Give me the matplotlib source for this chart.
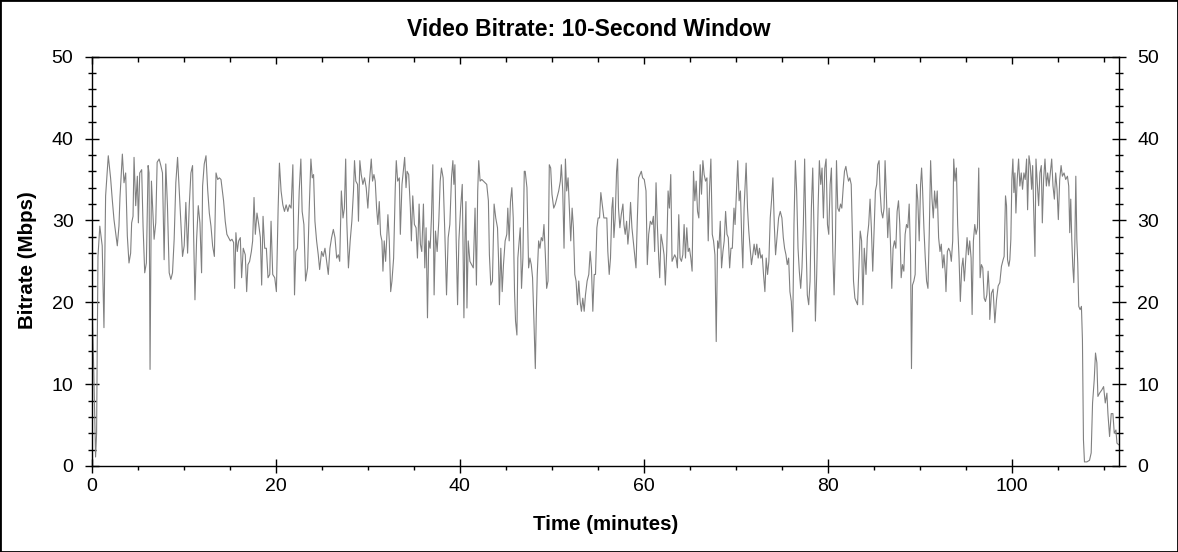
import numpy as np
import matplotlib
matplotlib.use('Agg')
import matplotlib.pyplot as plt
from matplotlib.ticker import MultipleLocator
from matplotlib.patches import Rectangle

plt.rcParams['font.family'] = ['Liberation Sans', 'DejaVu Sans']

# bitrate trace, split into ~14 minute pieces
t_a = [0.0, 0.07, 0.25, 0.44, 0.55, 0.7, 0.9, 1.16, 1.35, 1.53, 1.82, 2.07, 2.25, 2.44, 2.62, 2.8,
       2.98, 3.09, 3.35, 3.53, 3.71, 3.89, 4.07, 4.25, 4.36, 4.51, 4.62, 4.8, 4.98, 5.09, 5.24, 5.45,
       5.6, 5.78, 5.96, 6.15, 6.25, 6.36, 6.51, 6.8, 6.98, 7.13, 7.35, 7.53, 7.71, 7.89, 8.07, 8.25,
       8.44, 8.62, 8.8, 8.98, 9.16, 9.35, 9.53, 9.71, 9.89, 10.07, 10.25, 10.44, 10.62, 10.8, 10.98,
       11.09, 11.24, 11.42, 11.6, 11.78, 11.96, 12.07, 12.25, 12.44, 12.62, 12.8, 12.98, 13.16, 13.35,
       13.53, 13.71, 13.89, 14.07]
v_a = [21.1, 19.5, 11.3, 1.1, 4.0, 25.6, 29.3, 26.9, 16.9, 33.0, 37.9, 35.2, 32.6, 30.1, 28.5, 26.9,
       29.3, 32.8, 38.1, 34.6, 35.8, 28.1, 24.8, 26.0, 29.7, 30.5, 37.7, 31.8, 35.4, 29.7, 35.8, 36.2,
       29.3, 23.6, 24.8, 36.7, 35.8, 11.8, 34.8, 27.7, 29.7, 37.1, 37.5, 36.7, 35.8, 25.2, 36.9, 31.8,
       23.6, 22.8, 23.6, 27.7, 34.6, 37.7, 33.8, 29.7, 25.6, 26.9, 32.2, 26.0, 31.8, 35.8, 36.7,
       28.5, 20.3, 27.7, 31.8, 29.7, 23.6, 34.2, 36.9, 37.9, 33.8, 30.9, 29.3, 26.9, 25.6,
       35.8, 35.0, 35.2, 35.0]

t_b = [14.35, 14.53, 14.71, 14.89, 15.08, 15.26, 15.44, 15.55, 15.69, 15.84, 15.99, 16.17, 16.31,
       16.49, 16.71, 16.86, 17.0, 17.18, 17.37, 17.51, 17.66, 17.8, 17.98, 18.17, 18.35, 18.49, 18.64,
       18.82, 19.0, 19.18, 19.37, 19.51, 19.69, 19.91, 20.09, 20.28, 20.42, 20.6, 20.79, 20.97, 21.15,
       21.33, 21.51, 21.69, 21.88, 22.06, 22.2, 22.38, 22.57, 22.75, 22.89, 23.08, 23.26, 23.48, 23.66,
       23.84, 23.99, 24.13, 24.28, 24.46, 24.64, 24.79, 25.0, 25.18, 25.37, 25.55, 25.73, 25.91, 26.09,
       26.28, 26.46, 26.64, 26.82, 26.97, 27.15, 27.33, 27.48, 27.62]
v_b = [32.4, 29.9, 28.3, 27.9, 27.5, 27.7, 27.3, 21.7, 28.5, 26.2, 27.5, 27.9, 23.0,
       26.6, 25.8, 21.3, 24.6, 25.0, 26.2, 27.5, 32.8, 28.3, 30.9, 29.5, 27.9, 22.1, 30.5,
       26.6, 26.6, 23.0, 23.4, 29.9, 23.4, 23.0, 21.3, 31.5, 37.0, 33.6, 31.9, 31.1, 31.9,
       31.1, 31.9, 31.5, 36.8, 20.9, 26.2, 26.6, 33.6, 37.5, 31.1, 29.5, 22.6, 24.2, 31.5,
       37.5, 35.2, 35.6, 29.9, 27.5, 25.8, 24.0, 26.2, 25.6, 26.6, 25.0, 23.4, 26.6, 27.9,
       28.9, 27.9, 25.4, 25.8, 25.0, 33.6, 30.3, 31.5, 37.5]

t_c = [27.74, 27.92, 28.11, 28.29, 28.47, 28.58, 28.72, 28.91, 29.01, 29.16, 29.31, 29.49, 29.67,
       29.85, 30.03, 30.18, 30.4, 30.54, 30.69, 30.83, 30.98, 31.12, 31.27, 31.41, 31.56, 31.67, 31.81,
       31.96, 32.11, 32.21, 32.36, 32.51, 32.65, 32.83, 33.01, 33.12, 33.27, 33.45, 33.56, 33.74, 33.92,
       34.03, 34.18, 34.29, 34.47, 34.65, 34.76, 34.91, 35.09, 35.27, 35.42, 35.6, 35.74, 35.89, 36.07,
       36.22, 36.36, 36.51, 36.65, 36.8, 36.94, 37.09, 37.23, 37.38, 37.56, 37.74, 37.89, 38.03, 38.21,
       38.4, 38.58, 38.76, 38.94, 39.12, 39.27, 39.38, 39.49, 39.63, 39.78, 39.92, 40.11, 40.29, 40.47,
       40.58, 40.69, 40.8, 40.94, 41.12, 41.31, 41.49]
v_c = [29.9, 24.2, 27.5, 29.9, 33.6, 37.3, 34.8, 34.4, 29.9, 37.3, 35.6, 34.4, 35.2,
       34.0, 31.5, 34.4, 37.5, 34.8, 35.6, 34.8, 31.5, 29.5, 32.3, 28.3, 27.5, 23.8, 27.5,
       25.0, 28.3, 30.7, 27.5, 21.3, 22.6, 25.4, 34.0, 37.3, 34.8, 35.2, 28.3, 34.4, 36.4,
       37.7, 34.0, 36.0, 35.6, 31.5, 27.5, 33.0, 29.5, 29.1, 25.4, 32.0, 27.1, 26.2, 32.0,
       24.2, 29.1, 18.1, 27.5, 26.6, 30.3, 36.8, 20.9, 28.7, 26.2, 29.9, 34.8, 36.4, 35.2,
       28.3, 20.9, 27.9, 29.5, 35.2, 37.3, 34.4, 36.8, 27.5, 19.7, 27.5, 31.5, 34.4, 18.1,
       27.5, 32.3, 19.3, 27.5, 25.0, 24.6, 24.2]

t_d = [41.68, 41.83, 41.97, 42.08, 42.23, 42.41, 42.59, 42.77, 42.95, 43.13, 43.24, 43.39, 43.57,
       43.75, 43.93, 44.12, 44.23, 44.33, 44.48, 44.63, 44.77, 44.95, 45.13, 45.24, 45.39, 45.53, 45.68,
       45.83, 45.97, 46.08, 46.23, 46.33, 46.48, 46.59, 46.73, 46.88, 47.03, 47.13, 47.32, 47.5, 47.64,
       47.79, 47.93, 48.08, 48.23, 48.33, 48.44, 48.59, 48.73, 48.88, 49.03, 49.17, 49.32, 49.46, 49.61,
       49.75, 49.9, 50.04, 50.23, 50.41, 50.59, 50.77, 50.95, 51.06, 51.21, 51.35, 51.5, 51.64, 51.79,
       51.93, 52.08, 52.23, 52.37, 52.52, 52.66, 52.81, 52.95, 53.1, 53.24, 53.39, 53.54, 53.68, 53.86,
       54.04, 54.19, 54.33, 54.48, 54.63, 54.77, 54.92, 55.06, 55.21, 55.35, 55.5, 55.68]
v_d = [31.5, 22.1, 33.6, 37.3, 34.8, 35.0, 34.8, 34.6, 34.4, 32.4, 25.8, 22.1, 22.6,
       32.0, 30.3, 29.1, 25.4, 19.7, 26.6, 21.3, 24.6, 27.5, 28.3, 31.5, 27.5, 32.3, 34.0,
       30.3, 21.3, 17.7, 16.0, 25.4, 27.5, 29.1, 21.7, 25.4, 36.0, 36.0, 34.0, 24.2, 25.4,
       24.6, 23.0, 17.7, 11.9, 18.1, 23.4, 27.5, 26.6, 27.9, 27.5, 29.5, 25.8, 21.7, 22.6,
       36.8, 36.4, 33.2, 31.5, 32.0, 32.8, 33.6, 34.8, 36.8, 33.6, 26.6, 37.5, 33.6, 35.2,
       31.5, 27.5, 31.5, 29.1, 23.4, 22.6, 19.7, 22.6, 20.1, 18.9, 20.5, 18.9, 20.9, 22.6,
       23.4, 26.2, 24.2, 18.9, 23.4, 23.4, 29.1, 30.3, 30.3, 33.4, 32.0, 30.3]

t_e = [56.0, 56.11, 56.26, 56.4, 56.55, 56.66, 56.77, 56.91, 57.06, 57.17, 57.27, 57.42, 57.57,
       57.75, 57.86, 58.0, 58.15, 58.29, 58.44, 58.58, 58.73, 58.87, 59.02, 59.17, 59.31, 59.46, 59.6,
       59.75, 59.89, 60.07, 60.26, 60.4, 60.55, 60.73, 60.91, 61.06, 61.2, 61.35, 61.49, 61.64, 61.75,
       61.89, 62.07, 62.22, 62.36, 62.51, 62.66, 62.8, 62.95, 63.09, 63.24, 63.38, 63.53, 63.67, 63.82,
       63.96, 64.11, 64.26, 64.4, 64.55, 64.69, 64.84, 64.98, 65.13, 65.27, 65.42, 65.57, 65.71, 65.86,
       66.0, 66.15, 66.29, 66.44, 66.58, 66.73, 66.88, 67.02, 67.17, 67.31, 67.46, 67.6, 67.75, 67.89,
       68.04, 68.18, 68.33, 68.47, 68.62, 68.76, 68.91, 69.06, 69.2, 69.35, 69.49, 69.64, 69.82]
v_e = [30.3, 26.2, 23.4, 25.4, 31.5, 32.8, 27.9, 30.3, 36.0, 37.5, 31.5, 29.1, 30.7,
       32.0, 29.5, 28.3, 29.9, 27.1, 29.1, 32.2, 29.1, 27.5, 25.8, 24.2, 29.9, 35.2, 35.6,
       36.0, 35.2, 35.0, 33.6, 24.6, 28.3, 29.9, 29.5, 30.5, 26.2, 34.6, 29.5, 25.4, 23.0,
       28.3, 27.1, 25.8, 22.1, 26.2, 33.6, 31.5, 35.6, 25.0, 25.4, 25.8, 25.4, 24.2, 30.7,
       25.4, 25.0, 25.8, 29.5, 25.4, 29.1, 26.2, 26.6, 25.4, 23.8, 36.0, 32.4, 34.8, 31.1,
       30.3, 36.8, 33.2, 37.3, 35.6, 34.8, 35.2, 27.5, 34.0, 37.5, 28.3, 27.5, 25.8, 15.2,
       27.5, 26.6, 29.9, 24.2, 26.2, 27.5, 31.1, 28.3, 27.9, 24.2, 26.6, 26.6, 31.5]

t_f = [69.94, 70.12, 70.23, 70.38, 70.52, 70.67, 70.78, 70.92, 71.03, 71.14, 71.29, 71.43, 71.58,
       71.72, 71.87, 72.01, 72.16, 72.3, 72.45, 72.59, 72.74, 72.89, 73.03, 73.18, 73.32, 73.47, 73.61,
       73.76, 73.9, 74.05, 74.2, 74.34, 74.49, 74.67, 74.85, 75.03, 75.18, 75.32, 75.47, 75.61, 75.76,
       75.9, 76.05, 76.2, 76.34, 76.49, 76.63, 76.78, 76.92, 77.07, 77.21, 77.36, 77.5, 77.65, 77.79,
       77.94, 78.09, 78.23, 78.38, 78.52, 78.67, 78.81, 78.96, 79.1, 79.25, 79.39, 79.54, 79.69, 79.83,
       79.98, 80.12, 80.27, 80.41, 80.56, 80.7, 80.85, 80.96, 81.1, 81.25, 81.4, 81.54, 81.69, 81.83,
       81.98, 82.12, 82.27, 82.41, 82.56, 82.67, 82.81, 82.96, 83.1, 83.25, 83.39, 83.54, 83.69, 83.83,
       83.98]
v_f = [29.5, 34.4, 37.3, 32.4, 33.6, 27.5, 24.2, 31.5, 34.4, 37.0, 31.5, 28.7, 26.6,
       24.6, 25.8, 27.1, 25.8, 27.1, 25.4, 26.6, 25.4, 25.8, 23.4, 21.3, 25.4, 23.4, 25.0,
       30.3, 32.4, 35.2, 29.5, 25.8, 27.9, 30.3, 31.1, 30.3, 27.9, 26.6, 25.8, 24.6, 25.4,
       21.3, 20.1, 16.4, 29.5, 37.3, 33.6, 26.6, 23.8, 21.7, 24.2, 29.5, 37.5, 27.5, 20.9,
       19.7, 22.6, 31.5, 36.4, 28.7, 17.7, 23.4, 31.5, 37.3, 34.4, 36.4, 30.3, 36.4, 37.5,
       29.5, 28.3, 34.4, 36.4, 26.2, 20.9, 27.5, 37.3, 31.5, 31.1, 32.0, 31.5, 34.0, 36.0,
       36.6, 35.6, 34.8, 35.2, 34.4, 29.1, 22.6, 20.5, 20.1, 19.7, 24.2, 28.7, 27.5, 19.7,
       26.6]

t_g = [84.17, 84.31, 84.46, 84.61, 84.75, 84.9, 85.04, 85.19, 85.33, 85.44, 85.59, 85.7, 85.84,
       85.99, 86.13, 86.24, 86.39, 86.53, 86.68, 86.82, 86.97, 87.11, 87.26, 87.41, 87.55, 87.7, 87.84,
       87.99, 88.13, 88.28, 88.42, 88.57, 88.71, 88.86, 89.01, 89.11, 89.22, 89.37, 89.51, 89.66, 89.8,
       89.95, 90.1, 90.21, 90.31, 90.46, 90.61, 90.75, 90.9, 91.04, 91.19, 91.33, 91.48, 91.62, 91.77,
       91.91, 92.06, 92.21, 92.35, 92.5, 92.64, 92.79, 92.86, 93.01, 93.15, 93.3, 93.44, 93.59, 93.7,
       93.84, 93.99, 94.13, 94.28, 94.42, 94.57, 94.71, 94.86, 95.01, 95.15, 95.3, 95.44, 95.59, 95.7,
       95.84, 95.99, 96.13, 96.28, 96.42, 96.57, 96.71, 96.86, 97.01, 97.15, 97.3, 97.44, 97.59]
v_g = [23.4, 27.9, 29.5, 32.6, 29.1, 23.8, 28.7, 33.6, 34.4, 36.8, 37.3, 33.6, 31.1,
       30.3, 31.5, 37.3, 32.8, 27.9, 31.5, 27.5, 21.7, 26.6, 27.5, 26.6, 31.1, 32.4, 29.5,
       23.0, 24.6, 23.8, 28.3, 29.5, 29.1, 32.0, 25.8, 11.9, 22.1, 22.6, 23.4, 34.4, 32.4,
       27.5, 34.4, 36.4, 34.0, 29.1, 25.4, 22.6, 21.7, 28.3, 37.3, 32.8, 30.3, 33.6, 31.5,
       33.6, 27.9, 26.2, 27.1, 24.2, 25.8, 23.4, 21.3, 26.2, 26.6, 26.2, 25.0, 27.5, 37.5,
       34.8, 36.4, 29.5, 25.4, 20.1, 24.2, 25.4, 22.6, 25.4, 27.9, 25.8, 27.5, 25.4, 18.5,
       27.5, 29.5, 28.3, 29.1, 36.4, 23.0, 24.6, 24.2, 20.5, 20.1, 20.9, 23.8, 20.9]

t_h = [97.62, 97.8, 97.98, 98.17, 98.35, 98.53, 98.71, 98.89, 99.07, 99.18, 99.33, 99.44, 99.55,
       99.69, 99.8, 99.91, 100.02, 100.13, 100.24, 100.35, 100.46, 100.6, 100.75, 100.89, 101.04,
       101.18, 101.33, 101.47, 101.62, 101.73, 101.88, 102.02, 102.17, 102.28, 102.38, 102.53, 102.64,
       102.78, 102.93, 103.07, 103.22, 103.33, 103.47, 103.62, 103.77, 103.91, 104.06, 104.2, 104.35,
       104.49, 104.64, 104.78, 104.93, 105.07, 105.22, 105.37, 105.51, 105.69, 105.87, 106.06, 106.2,
       106.31, 106.42, 106.53, 106.64, 106.75, 106.86, 106.97, 107.08, 107.18, 107.29, 107.44, 107.58,
       107.69, 107.8, 107.91, 108.17, 108.46, 108.64, 108.79, 108.97, 109.11, 109.26, 109.37, 109.55,
       109.8, 109.99, 110.17, 110.35, 110.46, 110.64, 110.82, 111.0, 111.15, 111.33, 111.44, 111.62]
v_h = [17.9, 21.1, 21.6, 17.5, 20.3, 22.0, 22.4, 24.4, 25.2, 25.6, 33.0, 31.8, 25.2,
       24.4, 25.2, 27.7, 35.0, 37.5, 33.4, 35.8, 30.9, 35.0, 37.5, 34.2, 35.8,
       33.8, 35.8, 35.0, 37.5, 31.3, 37.9, 36.7, 33.8, 36.7, 31.8, 25.6, 37.5,
       34.6, 31.8, 35.8, 36.7, 29.7, 35.0, 37.5, 34.2, 35.8, 34.2, 35.8, 37.5,
       34.2, 32.6, 35.8, 33.8, 30.1, 35.0, 36.7, 35.4, 35.8, 35.0, 35.4, 34.2,
       28.5, 32.6, 27.7, 24.4, 22.4, 26.9, 35.4, 27.7, 24.8, 19.5, 19.1, 19.5,
       15.4, 3.2, 0.5, 0.5, 0.7, 1.6, 7.7, 10.5, 13.8, 12.6, 8.5, 8.9,
       9.3, 9.7, 7.7, 8.9, 6.4, 3.6, 6.4, 6.4, 4.0, 4.4, 2.8, 2.6]

time_min = np.concatenate([t_a, t_b, t_c, t_d, t_e, t_f, t_g, t_h])
bitrate = np.concatenate([v_a, v_b, v_c, v_d, v_e, v_f, v_g, v_h])

fig = plt.figure(figsize=(11.78, 5.52), dpi=100)
ax = fig.add_axes([0.0777, 0.1558, 0.8725, 0.7415])

ax.plot(time_min, bitrate, color='#808080', lw=0.8)

ax.set_xlim(0, 111.7)
ax.set_ylim(0, 50)
ax.xaxis.set_major_locator(MultipleLocator(20))
ax.xaxis.set_minor_locator(MultipleLocator(5))
ax.yaxis.set_major_locator(MultipleLocator(10))
ax.yaxis.set_minor_locator(MultipleLocator(2))

for s in ax.spines.values():
    s.set_linewidth(1)
    s.set_color('black')

# bottom axis: big ticks across the line, small ones hanging below
ax.tick_params(axis='x', which='major', direction='inout', length=10, width=1,
               labelsize=14, pad=4)
ax.tick_params(axis='x', which='minor', direction='out', length=3, width=1)
# left and right axes labelled the same
ax.tick_params(axis='y', which='major', direction='inout', length=10, width=1,
               labelsize=14, pad=8, right=True, labelright=True)
ax.tick_params(axis='y', which='minor', direction='inout', length=5.5, width=1, right=True)

# top axis ticks point into the plot
top = ax.secondary_xaxis('top')
top.xaxis.set_major_locator(MultipleLocator(20))
top.xaxis.set_minor_locator(MultipleLocator(5))
top.tick_params(which='major', direction='in', length=5, width=1)
top.tick_params(which='minor', direction='in', length=3.5, width=1)
top.tick_params(labeltop=False, labelbottom=False)

fig.text(0.5, 1 - 36 / 552, 'Video Bitrate: 10-Second Window', ha='center', va='baseline',
         fontsize=16.5, fontweight='bold')
fig.text(606 / 1178, 1 - 530 / 552, 'Time (minutes)', ha='center', va='baseline',
         fontsize=14.8, fontweight='bold')
fig.text(0.0235, 0.529, 'Bitrate (Mbps)', ha='center', va='center', rotation=90,
         fontsize=14.8, fontweight='bold')

# thin frame round the whole picture
fig.patches.append(Rectangle((0, 0), 1, 1, transform=fig.transFigure, fill=False,
                             edgecolor='black', lw=2))

fig.savefig('out.png', dpi=100)
